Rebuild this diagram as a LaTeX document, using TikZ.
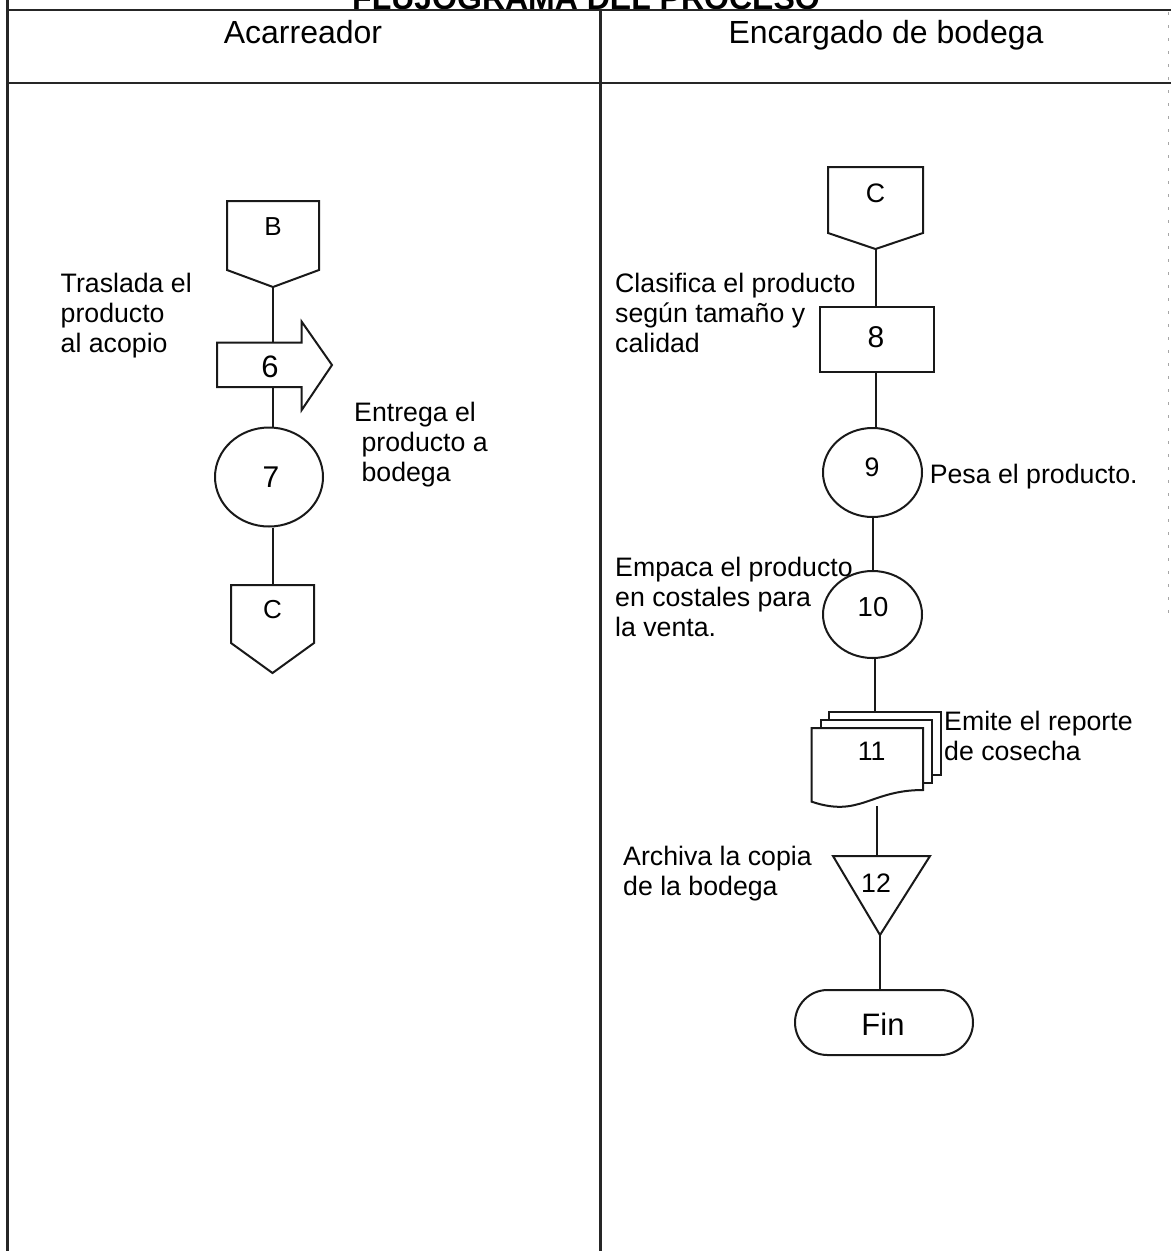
\documentclass[tikz,border=0pt]{standalone}
\usepackage{fontspec}
\setmainfont{Liberation Sans}
\usetikzlibrary{shapes.geometric}

\newcommand{\bodyfont}{\fontsize{26.7}{30}\selectfont}
\newcommand{\textlines}[1]{\begin{tabular}[t]{@{}l@{}}#1\end{tabular}}

% off-page connector: name, centre x, top y, half width, side bottom y, point y, label y, label size, label
\newcommand{\offpage}[9]{%
  \draw[shapeborder] ({#2-#4},#3) -- ({#2+#4},#3) -- ({#2+#4},#5) -- (#2,#6) -- ({#2-#4},#5) -- cycle;
  \coordinate (#1-n) at (#2,#3);
  \coordinate (#1-s) at (#2,#6);
  \node[numtext=#8] (#1) at (#2,#7) {#9};
}

\begin{document}
\begin{tikzpicture}[x=1pt,y=-1pt,
  frameline/.style={line width=2.2pt, draw=black!85},
  flowline/.style={line width=2pt, draw=black!90},
  shapeborder/.style={line width=2pt, draw=black!90, fill=white, line join=miter},
  notetext/.style={font=\bodyfont, inner sep=0pt, anchor=base west},
  headtext/.style={font=\fontsize{32}{36}\selectfont, inner sep=0pt, anchor=base},
  numtext/.style={inner sep=0pt, font=\fontsize{#1}{#1}\selectfont},
  bubble/.style={shapeborder, ellipse, inner sep=0pt}
]
\path[use as bounding box, clip] (0,0) rectangle (1171,1251);
\fill[white] (0,0) rectangle (1171,1251);

% table frame
\node[font=\bfseries\fontsize{32}{36}\selectfont, inner sep=0pt, anchor=base] (title) at (586,9) {FLUJOGRAMA DEL PROCESO};
\draw[frameline] (7.5,0) -- (7.5,1251);
\draw[frameline] (7.5,10) -- (1171,10);
\draw[frameline] (7.5,82.7) -- (1171,82.7);
\draw[frameline] (600.5,10) -- (600.5,1251);
\draw[line width=0.8pt, draw=black!35, dash pattern=on 3pt off 10pt] (1168,12) -- (1168,615);

\node[headtext] (colA) at (303,43) {Acarreador};
\node[headtext] (colB) at (886,43) {Encargado de bodega};

% ---- Acarreador ----
\offpage{B}{273}{201}{46}{270}{287}{227}{26}{B}

\draw[shapeborder] (217,342.7) -- (301.7,342.7) -- (301.7,321.7) -- (332,365)
  -- (301.7,410) -- (301.7,387) -- (217,387) -- cycle;
\coordinate (a6-n) at (273,342.7);
\coordinate (a6-s) at (273,387);
\node[numtext=31] (a6) at (270,367) {6};

\node[bubble, minimum width=108pt, minimum height=99pt] (c7) at (269,477) {};
\node[numtext=30] (c7t) at (271,477) {7};

\offpage{CL}{272.5}{585}{41.5}{643}{673}{610}{26}{C}

\draw[flowline] (B-s) -- (a6-n);
\draw[flowline] (a6-s) -- (a6-s |- c7.north);
\draw[flowline] (c7.south -| CL-n) -- (CL-n);

\node[notetext] (tA1) at (60.5,292) {\textlines{Traslada el\\producto\\al acopio}};
\node[notetext] (tA2) at (354,421.7) {\textlines{Entrega el\\\hspace{7.4pt}producto a\\\hspace{7.4pt}bodega}};

% ---- Encargado de bodega ----
\offpage{CR}{875.5}{167}{47.5}{233}{249}{193}{26.7}{C}

\node[shapeborder, rectangle, inner sep=0pt, minimum width=114pt, minimum height=65pt] (b8) at (877,339.5) {};
\node[numtext=30] (b8t) at (876,337) {8};

\node[bubble, minimum width=99pt, minimum height=89pt] (c9) at (872.5,472.5) {};
\node[numtext=26.7] (c9t) at (872,467) {9};

\node[bubble, minimum width=99pt, minimum height=87pt] (c10) at (872.5,614.5) {};
\node[numtext=27.5] (c10t) at (873,607) {10};

% stacked documents
\draw[shapeborder] (829,711.7) rectangle (940.7,775);
\draw[shapeborder] (820.7,720) rectangle (931.7,783);
\draw[shapeborder] (811.7,728) -- (923,728) -- (923,790)
  .. controls (870,790) and (860,818) .. (811.7,801.7) -- cycle;
\coordinate (d11-n) at (875,711.7);
\coordinate (d11-s) at (876.5,806);
\node[numtext=26.7] (d11) at (871.7,751.7) {11};

% archive triangle
\draw[shapeborder] (833,856) -- (930,856) -- (880,935) -- cycle;
\coordinate (t12-n) at (876.5,856);
\coordinate (t12-s) at (880,935);
\node[numtext=26.7] (t12) at (876,883) {12};

\node[shapeborder, rectangle, rounded corners=32.5pt, inner sep=0pt, minimum width=178pt, minimum height=65pt] (fin) at (884,1022.5) {};
\node[numtext=31] (fint) at (883,1024) {Fin};

\draw[flowline] (CR-s) -- (CR-s |- b8.north);
\draw[flowline] (b8.south -| CR-s) -- (CR-s |- c9.north);
\draw[flowline] (c9.south) -- (c10.north);
\draw[flowline] (c10.south -| d11-n) -- (d11-n);
\draw[flowline] (d11-s) -- (t12-n);
\draw[flowline] (t12-s) -- (t12-s |- fin.north);

\node[notetext] (tB1) at (615,292.7) {\textlines{Clasifica el producto\\según tamaño y\\calidad}};
\node[notetext] (tB2) at (929.6,483) {Pesa el producto.};
\node[notetext] (tB3) at (615,576) {\textlines{Empaca el producto\\en costales para\\la venta.}};
\node[notetext] (tB4) at (944,730.7) {\textlines{Emite el reporte\\de cosecha}};
\node[notetext] (tB5) at (623,865) {\textlines{Archiva la copia\\de la bodega}};
\end{tikzpicture}
\end{document}
